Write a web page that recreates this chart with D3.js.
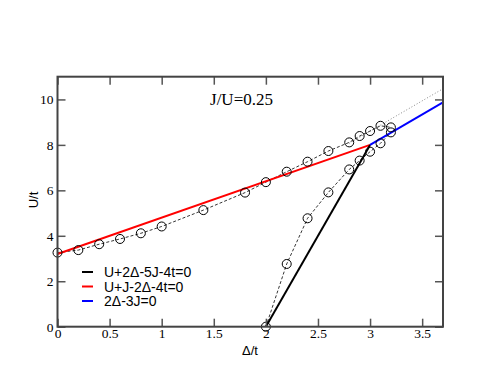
<!DOCTYPE html>
<html><head><meta charset="utf-8">
<script src="https://cdn.jsdelivr.net/npm/d3@7"></script>
<style>body{margin:0;background:#fff} .serif{font-family:"Liberation Serif","Times New Roman",serif} .sans{font-family:"Liberation Sans",Arial,sans-serif}</style>
</head><body>
<svg id="c" width="498" height="385"></svg>
<script>
// Data
const upperDelta = [0, 0.2, 0.4, 0.6, 0.8, 1.0, 1.4, 1.8, 2.0, 2.2, 2.4, 2.6, 2.8, 2.9, 3.0, 3.1, 3.2];
const upperU     = [3.26, 3.37, 3.63, 3.86, 4.11, 4.41, 5.13, 5.9, 6.36, 6.82, 7.26, 7.73, 8.11, 8.39, 8.61, 8.84, 8.77];
const lowerDelta = [2.0, 2.2, 2.4, 2.6, 2.8, 2.9, 3.0, 3.1, 3.2];
const lowerU     = [0.0, 2.76, 4.77, 5.91, 6.92, 7.31, 7.70, 8.07, 8.55];
const redLine   = [[0, 3.2], [3.0, 8.0]];      // U+J-2Δ-4t=0
const blackLine = [[2.0, 0], [3.0, 8.0]];      // U+2Δ-5J-4t=0
const blueLine  = [[3.0, 8.0], [3.7, 9.867]];  // 2Δ-3J=0
const dottedLine = [[2.8, 8.07], [3.7, 10.47]];
const xTicks = [0, 0.5, 1, 1.5, 2, 2.5, 3, 3.5];
const yTicks = [0, 2, 4, 6, 8, 10];
const legendLabels = ["U+2Δ-5J-4t=0", "U+J-2Δ-4t=0", "2Δ-3J=0"];
const legendColors = ["#000000", "#ff0000", "#0000ff"];
const titleText = "J/U=0.25";

const svg = d3.select("#c");
const L = 57.5, R = 443, T = 76.7, B = 326.7;
const x = d3.scaleLinear().domain([0, 3.7]).range([L, R]);
const y = d3.scaleLinear().domain([0, 11]).range([B, T]);
const line = d3.line().x(d => x(d[0])).y(d => y(d[1]));

const g = svg.append("g");
svg.append("clipPath").attr("id","clip").append("rect").attr("x",L).attr("y",T).attr("width",R-L).attr("height",B-T);
const plot = g.append("g").attr("clip-path","url(#clip)");

plot.append("path").datum(dottedLine).attr("d", line).attr("fill","none")
  .attr("stroke","#888").attr("stroke-width",1).attr("stroke-dasharray","1,2");

const up = upperDelta.map((d,i)=>[d, upperU[i]]);
const lo = lowerDelta.map((d,i)=>[d, lowerU[i]]);
[up, lo].forEach(s => {
  plot.append("path").datum(s).attr("d", line).attr("fill","none")
    .attr("stroke","#000").attr("stroke-width",0.8).attr("stroke-dasharray","3,2");
});

plot.append("path").datum(redLine).attr("d", line).attr("fill","none").attr("stroke","#ff0000").attr("stroke-width",2);
plot.append("path").datum(blackLine).attr("d", line).attr("fill","none").attr("stroke","#000").attr("stroke-width",2);
plot.append("path").datum(blueLine).attr("d", line).attr("fill","none").attr("stroke","#0000ff").attr("stroke-width",2);

g.selectAll("circle.pt").data(up.concat(lo)).enter().append("circle")
  .attr("cx", d=>x(d[0])).attr("cy", d=>y(d[1])).attr("r",4.5)
  .attr("fill","none").attr("stroke","#000").attr("stroke-width",1);

const axB = d3.axisBottom(x).tickValues(xTicks).tickSizeInner(-8).tickSizeOuter(0).tickPadding(2).tickFormat(d3.format("~g"));
const axT = d3.axisTop(x).tickValues(xTicks).tickSizeInner(-8).tickSizeOuter(0).tickFormat("");
const axL = d3.axisLeft(y).tickValues(yTicks).tickSizeInner(-8).tickSizeOuter(0).tickPadding(4).tickFormat(d3.format("~g"));
const axR = d3.axisRight(y).tickValues(yTicks).tickSizeInner(-8).tickSizeOuter(0).tickFormat("");
const gb = g.append("g").attr("transform",`translate(0,${B})`).call(axB);
const gt = g.append("g").attr("transform",`translate(0,${T})`).call(axT);
const gl = g.append("g").attr("transform",`translate(${L},0)`).call(axL);
const gr = g.append("g").attr("transform",`translate(${R},0)`).call(axR);
[gb,gt,gl,gr].forEach(a => {
  a.attr("font-family", null).attr("font-size", null);
  a.selectAll(".domain").remove();
  a.selectAll(".tick line").attr("stroke","#555").attr("stroke-width",1.5);
  a.selectAll(".tick text").attr("class","serif").style("font-size","13.5px").attr("fill","#000");
});
g.append("rect").attr("x",L).attr("y",T).attr("width",R-L).attr("height",B-T)
  .attr("fill","none").attr("stroke","#444").attr("stroke-width",2);

g.append("text").attr("class","sans").attr("x", 250).attr("y", 355).attr("text-anchor","middle")
  .style("font-size","13px").text("Δ/t");
g.append("text").attr("class","sans").attr("transform","translate(38,200) rotate(-90)").attr("text-anchor","middle")
  .style("font-size","13px").text("U/t");

g.append("text").attr("class","serif").attr("x", 241.5).attr("y", 105).attr("text-anchor","middle")
  .style("font-size","17px").text(titleText);

const lg = g.append("g");
legendLabels.forEach((lab,i) => {
  const yy = 272 + i*14.5;
  lg.append("line").attr("x1",82).attr("x2",93).attr("y1",yy).attr("y2",yy)
    .attr("stroke",legendColors[i]).attr("stroke-width",2);
  lg.append("text").attr("class","sans").attr("x",104).attr("y",yy+5)
    .style("font-size","14px").text(lab);
});
</script>
</body></html>
